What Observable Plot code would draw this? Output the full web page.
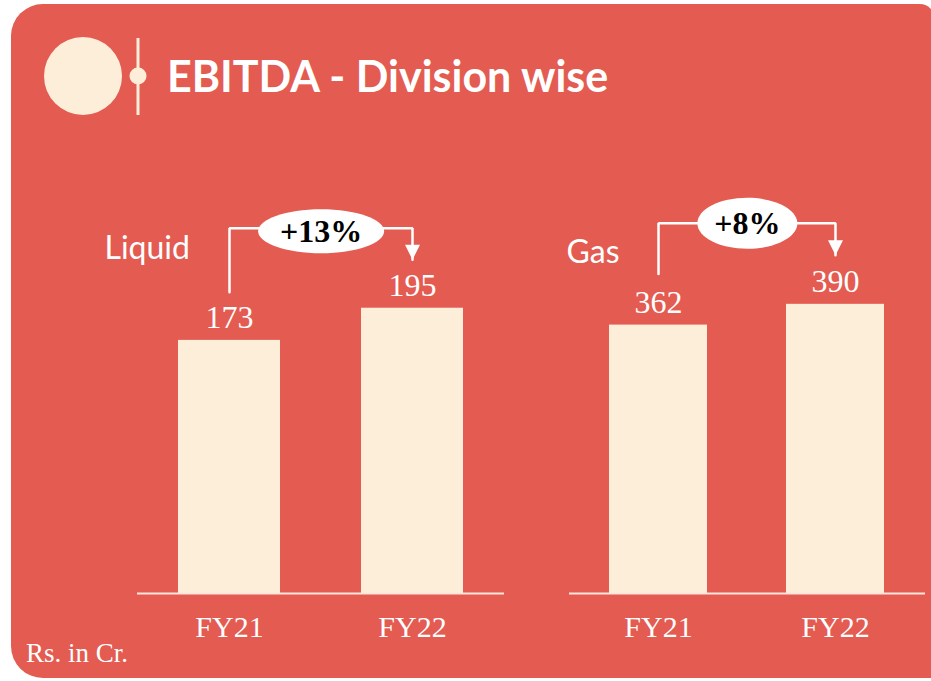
<!DOCTYPE html>
<html><head><meta charset="utf-8">
<script src="https://cdn.jsdelivr.net/npm/d3@7"></script>
<script src="https://cdn.jsdelivr.net/npm/@observablehq/plot@0.6"></script>
<style>
  html,body{margin:0;padding:0;background:#fff;}
  body{width:931px;height:681px;overflow:hidden;position:relative;}
  #card{position:absolute;left:11px;top:4px;width:923px;height:674px;background:#E35B51;border-radius:32px 14px 0 32px;}
  .layer{position:absolute;left:0;top:0;}
  .panel{position:absolute;top:180px;}
</style>
</head><body>
<div id="card"></div>
<svg class="layer" width="931" height="681" id="deco">
  <circle cx="83" cy="76" r="39" fill="#FDEEDA"></circle>
  <rect x="136.5" y="38" width="3" height="77" fill="#FDEEDA"></rect>
  <circle cx="138" cy="76" r="8.5" fill="#FDEEDA"></circle>
  <text x="167" y="92" fill="#fff" font-family="Lato" font-weight="bold" font-size="43">EBITDA - Division wise</text>
  <text x="26" y="662" fill="#fff" font-family="Liberation Serif" font-size="27">Rs. in Cr.</text>
</svg>
<div id="liquid" class="panel"></div>
<div id="gas" class="panel"></div>
<script>
// ---- data ----
const periods = ["FY21", "FY22"];
const divisions = ["Liquid", "Gas"];
const liquidValues = [173, 195];
const gasValues = [362, 390];
const growthLabels = ["+13%", "+8%"];

// ---- style / layout ----
const cream = "#FDEEDA";
const serif = "Liberation Serif";
const sans = "Lato";
const padIn = 0.445, padOut = 0.224;

function ellipseSymbol(rx, ry) {
  const k = 0.5523;
  return {
    draw(ctx) {
      ctx.moveTo(rx, 0);
      ctx.bezierCurveTo(rx, ry * k, rx * k, ry, 0, ry);
      ctx.bezierCurveTo(-rx * k, ry, -rx, ry * k, -rx, 0);
      ctx.bezierCurveTo(-rx, -ry * k, -rx * k, -ry, 0, -ry);
      ctx.bezierCurveTo(rx * k, -ry, rx, -ry * k, rx, 0);
      ctx.closePath();
    }
  };
}
const arrowHead = {
  draw(ctx) {
    ctx.moveTo(0, 0);
    ctx.lineTo(-7.5, -15);
    ctx.lineTo(7.5, -15);
    ctx.closePath();
  }
};

function makePanel(el, name, values, growth, cfg) {
  const data = periods.map((p, i) => ({period: p, value: values[i]}));
  const step = (cfg.width - cfg.ml - cfg.mr) / (periods.length - padIn + 2 * padOut);
  const top = Math.max(...values) * 1.28;
  const start = values[0] * 1.19;
  const tip = values[1] * 1.17;
  const path = [
    {x: periods[0], y: start},
    {x: periods[0], y: top},
    {x: periods[1], y: top},
    {x: periods[1], y: tip}
  ];
  const chart = Plot.plot({
    width: cfg.width,
    height: 470,
    marginLeft: cfg.ml,
    marginRight: cfg.mr,
    marginTop: 0,
    marginBottom: 57,
    style: {background: "transparent", color: "#fff", overflow: "visible"},
    x: {type: "band", domain: periods, paddingInner: padIn, paddingOuter: padOut, axis: null},
    y: {domain: [0, cfg.yMax], axis: null},
    marks: [
      Plot.barY(data, {x: "period", y: "value", fill: cream}),
      Plot.ruleY([0], {stroke: "#FBE6DC", strokeWidth: 2}),
      Plot.axisX({tickSize: 0, tickPadding: 22, fontSize: 30, fontFamily: serif, fill: "#fff"}),
      Plot.text(data, {x: "period", y: "value", text: d => String(d.value), dy: -12, lineAnchor: "bottom",
        fill: "#fff", fontSize: 32, fontFamily: serif}),
      Plot.line(path, {x: "x", y: "y", stroke: "#fff", strokeWidth: 2.5, strokeLinejoin: "miter"}),
      Plot.dot([path[3]], {x: "x", y: "y", symbol: arrowHead, fill: "#fff", stroke: null}),
      Plot.dot([path[1]], {x: "x", y: "y", dx: step / 2, dy: cfg.edy, symbol: ellipseSymbol(cfg.rx, cfg.ry), fill: "#fff", stroke: null}),
      Plot.text([path[1]], {x: "x", y: "y", dx: step / 2, dy: cfg.edy, text: () => growth, lineAnchor: "middle",
        fill: "#000", fontSize: 32, fontWeight: "bold", fontFamily: serif}),
      Plot.text([name], {frameAnchor: "top-left", dx: cfg.lx, dy: cfg.ly, text: d => d, textAnchor: "start",
        lineAnchor: "bottom", fill: "#fff", fontSize: 32, fontFamily: sans})
    ]
  });
  el.style.left = cfg.left + "px";
  el.appendChild(chart);
}

makePanel(document.getElementById("liquid"), divisions[0], liquidValues, growthLabels[0],
  {left: 90, width: 440, ml: 47, mr: 26, yMax: 282.3, rx: 63, ry: 22, edy: 3, lx: -33, ly: 78});
makePanel(document.getElementById("gas"), divisions[1], gasValues, growthLabels[1],
  {left: 530, width: 401, ml: 39, mr: 6, yMax: 557, rx: 50, ry: 25.5, edy: 0, lx: -3, ly: 82});
</script>
</body></html>
